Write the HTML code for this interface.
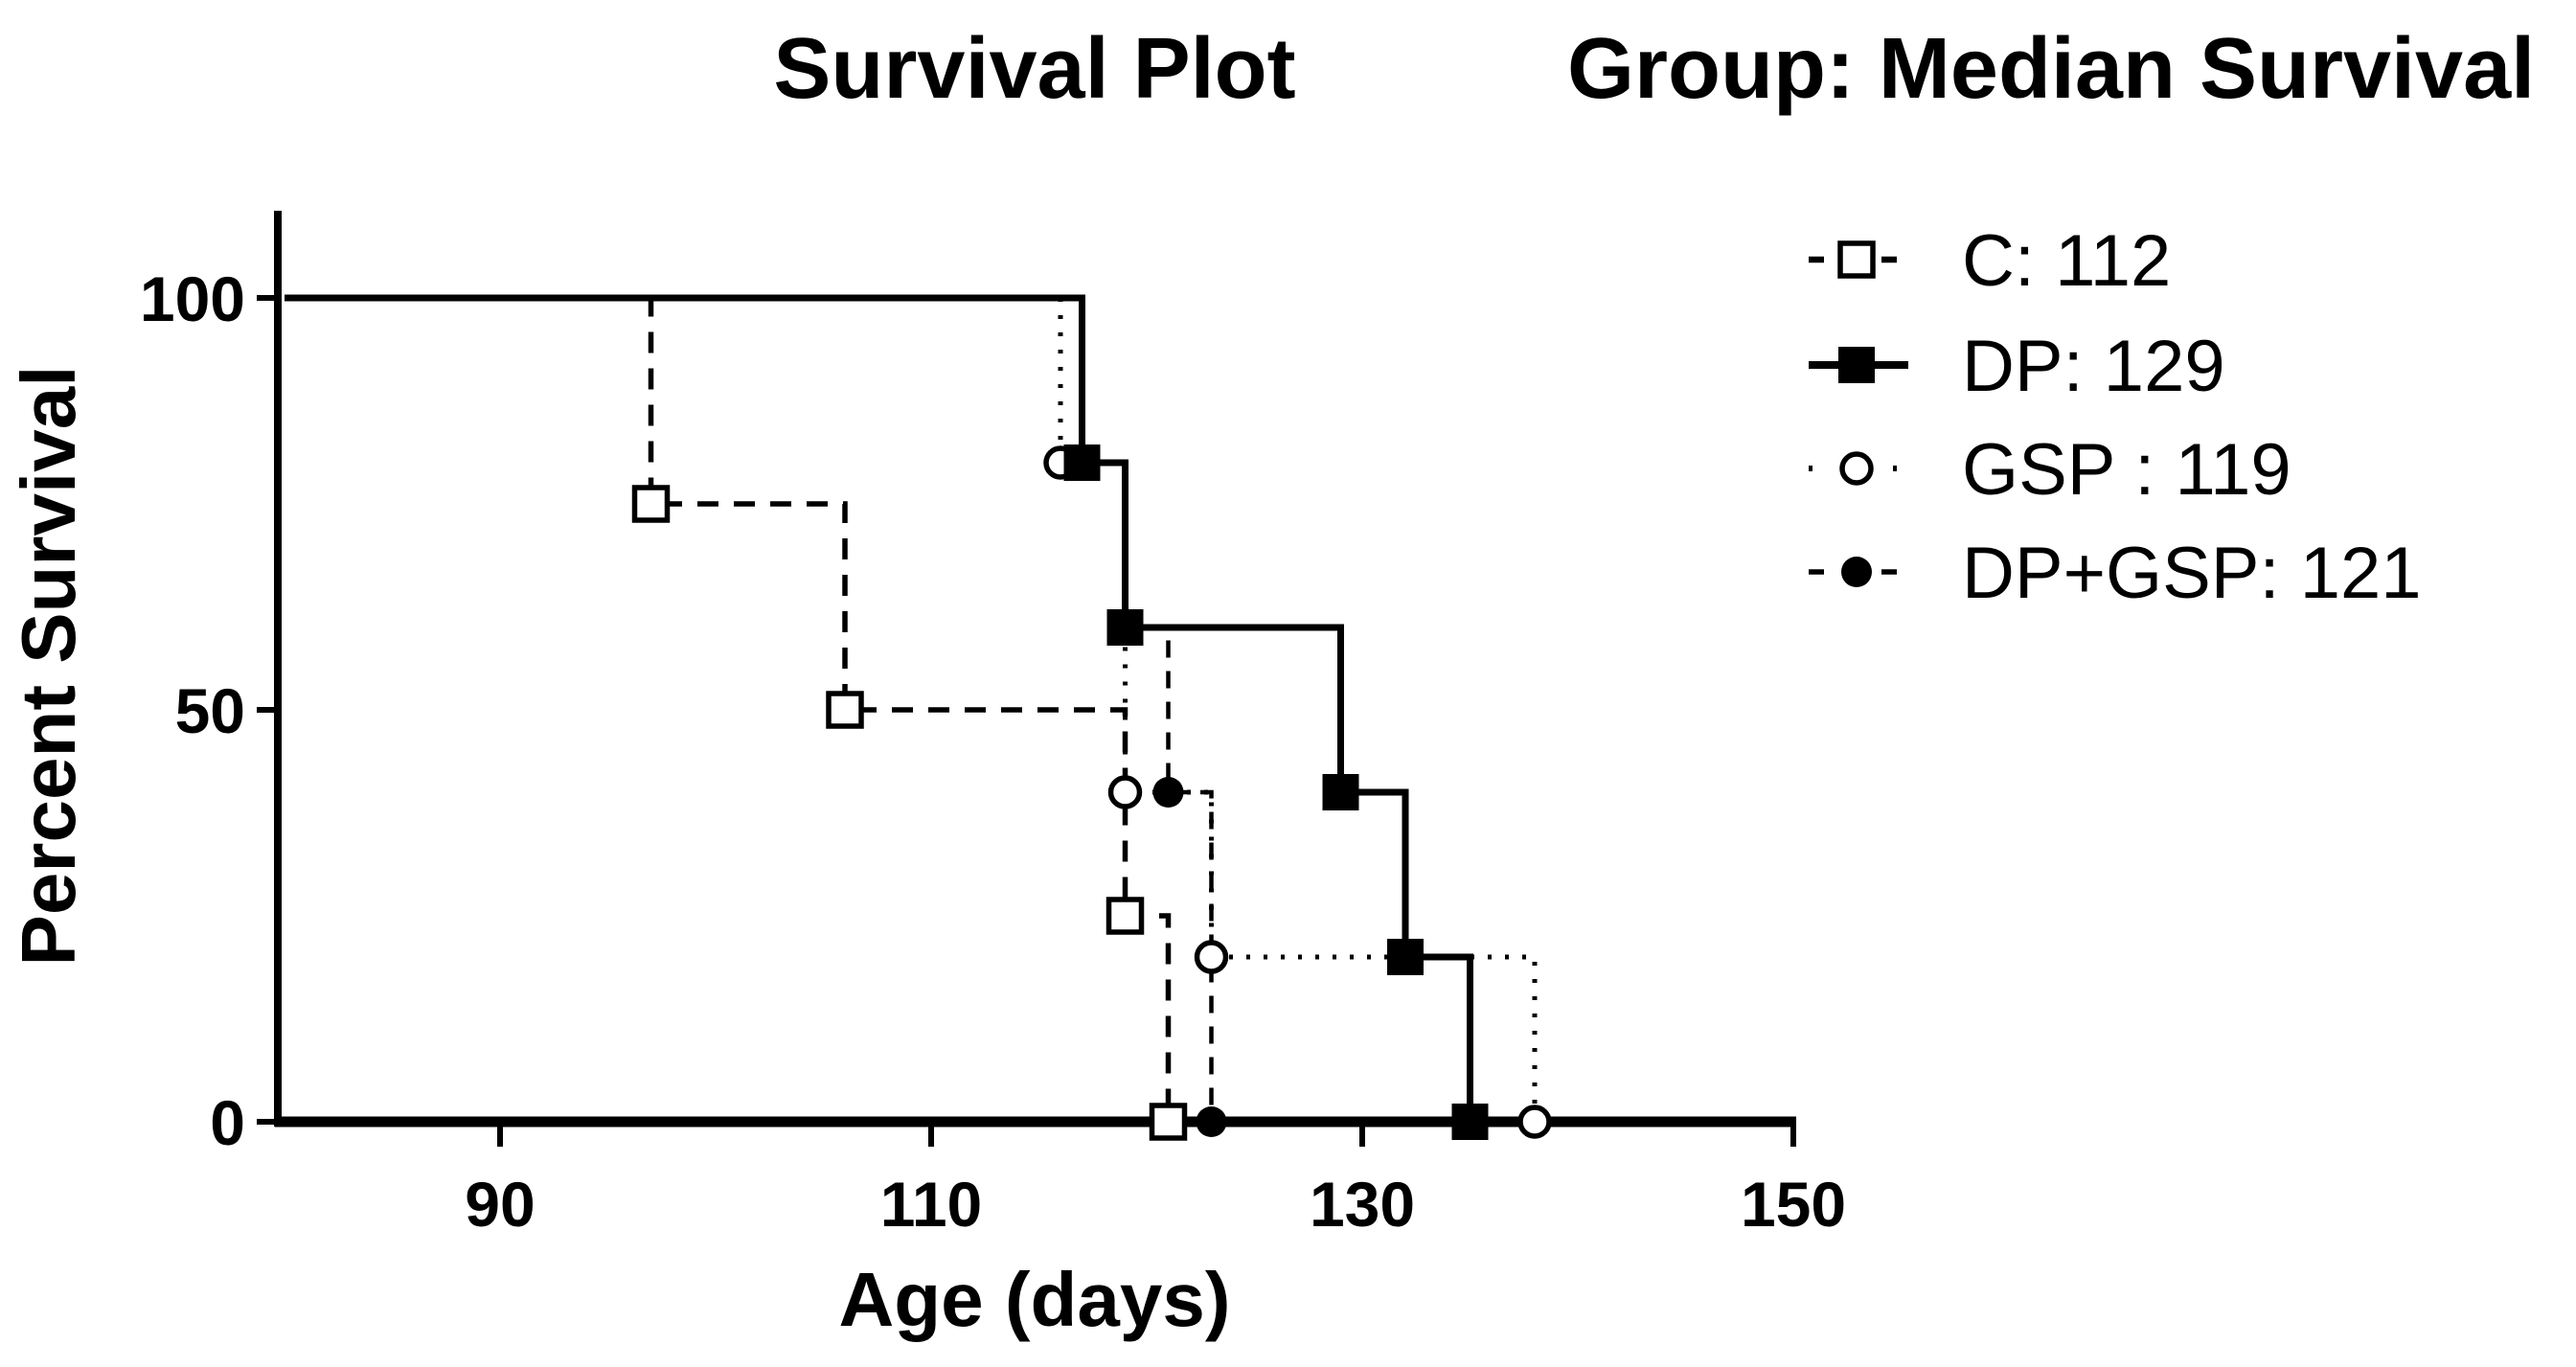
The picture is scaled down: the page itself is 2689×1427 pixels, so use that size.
<!DOCTYPE html>
<html><head><meta charset="utf-8"><style>
html,body{margin:0;padding:0;background:#fff;}
svg{display:block;font-family:"Liberation Sans",Arial,sans-serif;}
</style></head><body>
<svg id="chart" width="2689" height="1427" viewBox="0 0 2689 1427">
<text x="1080" y="102" font-size="90" font-weight="bold" text-anchor="middle">Survival Plot</text>
<text x="1636" y="102" font-size="90" font-weight="bold">Group: Median Survival</text>
<g id="axes"></g>
<g id="series"></g>
<g id="legend"></g>
<text transform="translate(78,695) rotate(-90)" font-size="80" font-weight="bold" text-anchor="middle">Percent Survival</text>
<text x="1080" y="1384" font-size="80" font-weight="bold" text-anchor="middle">Age (days)</text>
</svg>
<script>
const xTicks=[90,110,130,150];
const yTicks=[0,50,100];
const groupNames=["C","DP","GSP","DP+GSP"];
const medians=["112","129","119","121"];
const cDays=[97,106,119,121];
const cVals=[75,50,25,0];
const dpDays=[117,119,129,132,135];
const dpVals=[80,60,40,20,0];
const gspDays=[116,119,123,138];
const gspVals=[80,40,20,0];
const dgDays=[117,119,121,123];
const dgVals=[80,60,40,0];

const NS="http://www.w3.org/2000/svg";
const X=d=>297+(d-80)*22.5;
const Y=v=>1171-v*8.6;
function mk(tag,attrs,parent){const e=document.createElementNS(NS,tag);for(const k in attrs)e.setAttribute(k,attrs[k]);parent.appendChild(e);return e;}
const axes=document.getElementById('axes'),series=document.getElementById('series'),legend=document.getElementById('legend');

const styles=[
 {dash:"22,16",w:5.5,marker:"sq-open"},
 {dash:"",w:7,marker:"sq-fill"},
 {dash:"4,14",w:5,marker:"circ-open"},
 {dash:"18,14",w:4.5,marker:"circ-fill"}
];
const data=[[cDays,cVals],[dpDays,dpVals],[gspDays,gspVals],[dgDays,dgVals]];
function marker(type,x,y,parent,name){
  let e;
  if(type==="sq-open"){e=mk('rect',{x:x-17,y:y-17,width:34,height:34,fill:'#fff',stroke:'#000','stroke-width':5.5},parent);}
  else if(type==="sq-fill"){e=mk('rect',{x:x-19,y:y-19,width:38,height:38,fill:'#000'},parent);}
  else if(type==="circ-open"){e=mk('circle',{cx:x,cy:y,r:15,fill:'#fff',stroke:'#000','stroke-width':5.5},parent);}
  else {e=mk('circle',{cx:x,cy:y,r:16,fill:'#000'},parent);}
  
  
}
[3,0,2,1].forEach(i=>{
  const [days,vals]=data[i];const s=styles[i];
  let d=`M${X(80)},${Y(100)}`;
  days.forEach((dd,j)=>{d+=` H${X(dd)} V${Y(vals[j])}`;});
  const p=mk('path',{d:d,fill:'none',stroke:'#000','stroke-width':s.w,'stroke-dasharray':s.dash},series);
  
  
});
const ya=mk('line',{x1:290,y1:220,x2:290,y2:1176,stroke:'#000','stroke-width':8},axes);


const xa=mk('line',{x1:287,y1:1171,x2:X(150)+3,y2:1171,stroke:'#000','stroke-width':11},axes);


xTicks.forEach(t=>{
  const l=mk('line',{x1:X(t),y1:1171,x2:X(t),y2:1197,stroke:'#000','stroke-width':6},axes);
  
  
  const tx=mk('text',{x:X(t),y:1280,'font-size':66,'font-weight':'bold','text-anchor':'middle'},axes);
  tx.textContent=t;
  
  
});
yTicks.forEach(t=>{
  const l=mk('line',{x1:268,y1:Y(t),x2:290,y2:Y(t),stroke:'#000','stroke-width':6},axes);
  
  
  const tx=mk('text',{x:256,y:Y(t)+24,'font-size':66,'font-weight':'bold','text-anchor':'end'},axes);
  tx.textContent=t;
  
  
});
[3,0,2,1].forEach(i=>{
  const [days,vals]=data[i];
  days.forEach((dd,j)=>marker(styles[i].marker,X(dd),Y(vals[j]),series,'marker-'+groupNames[i].toLowerCase().replace('+','-')));
});
const rows=[271,381,489,597];
groupNames.forEach((g,i)=>{
  const gg=mk('g',{},legend);
  
  
  const s=styles[i];
  const ln=mk('line',{x1:1888,y1:rows[i],x2:1992,y2:rows[i],stroke:'#000','stroke-width':s.w+1,'stroke-dasharray':i===1?'':(i===2?'4,40':'16,60')},gg);
  
  
  marker(s.marker,1938,rows[i],gg,'legend-marker');
  const t=mk('text',{x:2048,y:rows[i]+27,'font-size':76},gg);
  t.textContent=g+(g==="GSP"?" : ":": ")+medians[i];
  
  
});
</script>
</body></html>
